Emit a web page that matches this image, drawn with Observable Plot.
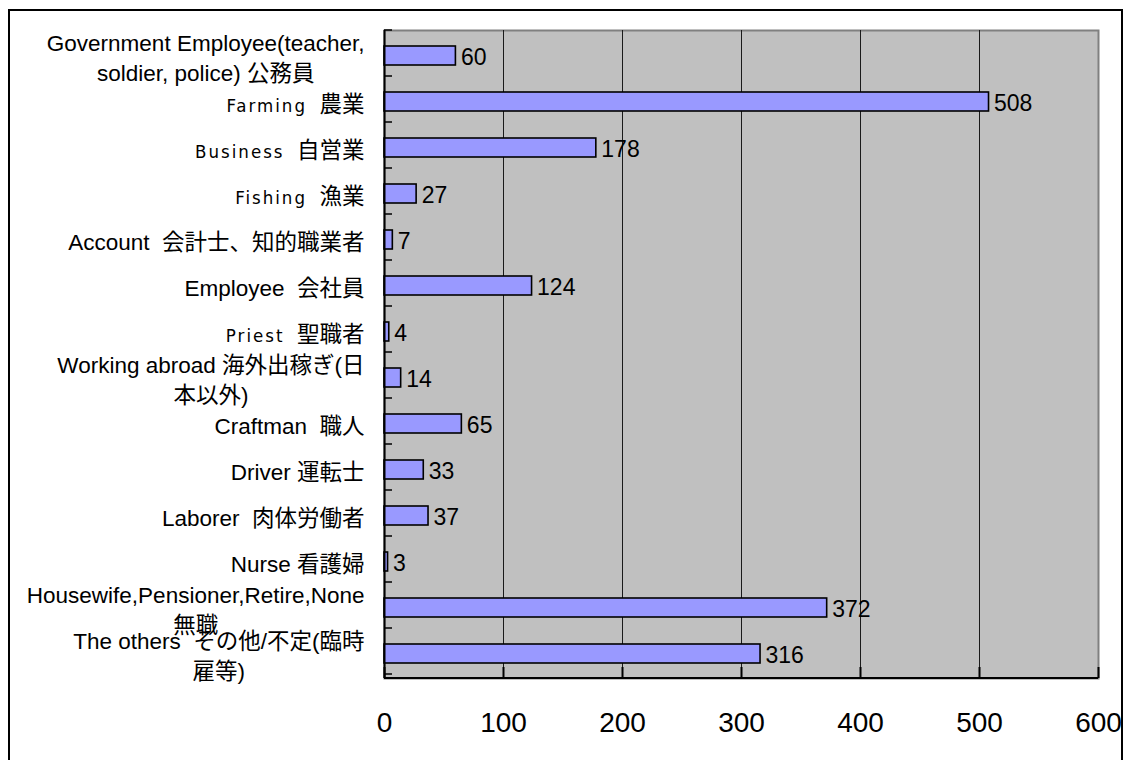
<!DOCTYPE html>
<html>
<head>
<meta charset="utf-8">
<script src="https://cdn.jsdelivr.net/npm/d3@7"></script>
<script src="https://cdn.jsdelivr.net/npm/@observablehq/plot@0.6"></script>
<style>
  html, body { margin: 0; padding: 0; background: #fff; }
  #wrap { position: relative; width: 1125px; height: 760px; overflow: hidden; }
  #frame { position: absolute; left: 8px; top: 9px; width: 1115px; height: 800px; border: 2px solid #000; box-sizing: border-box; pointer-events: none; }
  svg text { white-space: pre; }
</style>
</head>
<body>
<div id="wrap"><div id="chart"></div><div id="frame"></div></div>
<script>
const categories = [
  "Government Employee(teacher,\nsoldier, police) 公務員",
  "Farming 農業",
  "Business 自営業",
  "Fishing 漁業",
  "Account  会計士、知的職業者",
  "Employee  会社員",
  "Priest 聖職者",
  "Working abroad 海外出稼ぎ(日\n本以外)",
  "Craftman  職人",
  "Driver 運転士",
  "Laborer  肉体労働者",
  "Nurse 看護婦",
  "Housewife,Pensioner,Retire,None\n無職",
  "The others  その他/不定(臨時\n雇等)"
];
const values = [60, 508, 178, 27, 7, 124, 4, 14, 65, 33, 37, 3, 372, 316];
const xTicks = [0, 100, 200, 300, 400, 500, 600];
const gridTicks = [100, 200, 300, 400, 500];
const spacedWords = ["Farming", "Business", "Fishing", "Priest"];

const data = categories.map((c, i) => ({cat: c, value: values[i]}));
const font = "'Liberation Sans', Arial, 'Noto Sans CJK JP', sans-serif";

const plot = Plot.plot({
  width: 1125,
  height: 760,
  marginLeft: 384,
  marginRight: 27,
  marginTop: 30,
  marginBottom: 82,
  style: {fontFamily: font, background: "transparent", color: "#000", overflow: "visible"},
  x: {domain: [0, 600], axis: null},
  y: {domain: categories, paddingInner: 0.59, paddingOuter: 0.295, axis: null},
  marks: [
    Plot.frame({fill: "#c0c0c0", stroke: "#808080", strokeWidth: 2}),
    Plot.ruleX(gridTicks, {stroke: "#1a1a1a", strokeWidth: 1}),
    Plot.ruleX(xTicks, {stroke: "#000", strokeWidth: 2, insetTop: 637}),
    Plot.barX(data, {x: "value", y: "cat", fill: "#9999ff", stroke: "#000", strokeWidth: 1.6}),
    Plot.text(data, {x: "value", y: "cat", text: d => String(d.value), textAnchor: "start", dx: 5, dy: 2, fontSize: 23, fill: "#000"}),
    Plot.ruleX([0], {stroke: "#000", strokeWidth: 2}),
    Plot.axisX(xTicks, {anchor: "bottom", label: null, tickSize: 0, tickPadding: 34, fontSize: 28, fill: "#000"}),
    Plot.axisY({anchor: "left", label: null, tickSize: 0, tickPadding: 20, fontSize: 22.5, lineHeight: 1.33, fill: "#000", tickFormat: d => d})
  ]
});
document.getElementById("chart").appendChild(plot);

// Post-process: bottom axis line, category boundary ticks, label styling
const svg = d3.select(plot);
const xs = plot.scale("x");
const ys = plot.scale("y");
const [x0, x1] = xs.range;
const [y0, y1] = ys.range;
const step = ys.step != null ? ys.step : (y1 - y0) / categories.length;
svg.append("line").attr("x1", x0).attr("x2", x1).attr("y1", y1).attr("y2", y1)
  .attr("stroke", "#000").attr("stroke-width", 2);
for (let i = 0; i <= categories.length; i++) {
  const yy = y0 + i * step;
  svg.append("line").attr("x1", x0).attr("x2", x0 + 8).attr("y1", yy).attr("y2", yy)
    .attr("stroke", "#000").attr("stroke-width", 1.5);
}

const flat = categories.map(c => c.replace("\n", ""));
svg.selectAll("text").each(function() {
  const t = this;
  const content = t.textContent;
  const idx = flat.indexOf(content);
  if (idx < 0) return;
  const tspans = t.querySelectorAll("tspan");
  if (categories[idx].includes("\n") && tspans.length > 1) {
    let maxW = 0;
    tspans.forEach(s => { maxW = Math.max(maxW, s.getComputedTextLength()); });
    t.setAttribute("text-anchor", "middle");
    tspans.forEach(s => s.setAttribute("x", -maxW / 2));
  } else {
    const word = spacedWords.find(w => content.startsWith(w));
    if (word) {
      const rest = content.slice(word.length);
      while (t.firstChild) t.removeChild(t.firstChild);
      const a = document.createElementNS("http://www.w3.org/2000/svg", "tspan");
      a.textContent = word;
      a.setAttribute("font-size", "18.5");
      a.setAttribute("letter-spacing", "2");
      a.setAttribute("font-family", "'Liberation Sans Narrow', 'DejaVu Sans Condensed', sans-serif");
      const b = document.createElementNS("http://www.w3.org/2000/svg", "tspan");
      b.textContent = "  " + rest.trimStart();
      t.appendChild(a);
      t.appendChild(b);
    }
  }
});
</script>
</body>
</html>
